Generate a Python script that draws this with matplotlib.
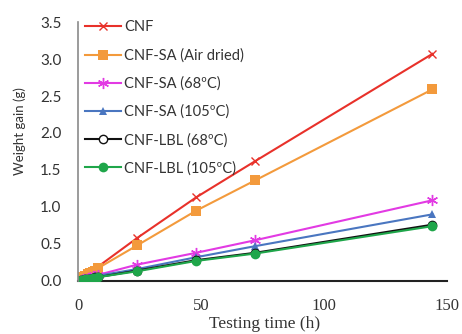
import matplotlib
matplotlib.use("Agg")
import matplotlib.pyplot as plt

# Testing times (h)
time_h = [0, 1, 2, 3, 4, 5, 6, 7, 8, 24, 48, 72, 144]

# Weight gain (g) per sample
cnf        = [0.00, 0.03, 0.05, 0.07, 0.09, 0.11, 0.13, 0.15, 0.19, 0.58, 1.13, 1.62, 3.07]
cnf_sa_air = [0.00, 0.03, 0.05, 0.07, 0.09, 0.10, 0.12, 0.14, 0.17, 0.48, 0.95, 1.36, 2.59]
cnf_sa_68  = [0.00, 0.01, 0.02, 0.03, 0.04, 0.05, 0.06, 0.07, 0.08, 0.22, 0.38, 0.55, 1.09]
cnf_sa_105 = [0.00, 0.01, 0.02, 0.03, 0.03, 0.04, 0.05, 0.06, 0.07, 0.16, 0.32, 0.47, 0.90]
cnf_lbl_68 = [0.00, 0.01, 0.01, 0.02, 0.03, 0.03, 0.04, 0.05, 0.05, 0.14, 0.28, 0.38, 0.76]
cnf_lbl_105= [0.00, 0.01, 0.01, 0.02, 0.02, 0.03, 0.04, 0.04, 0.05, 0.13, 0.27, 0.37, 0.74]

labels = ["CNF", "CNF-SA (Air dried)", "CNF-SA (68ºC)", "CNF-SA (105ºC)",
          "CNF-LBL (68ºC)", "CNF-LBL (105ºC)"]
series = [cnf, cnf_sa_air, cnf_sa_68, cnf_sa_105, cnf_lbl_68, cnf_lbl_105]

styles = [
    dict(color="#e8312a", marker="x", ms=6, mew=1.0, mfc="#e8312a"),
    dict(color="#f39a3c", marker="s", ms=7, mew=0, mfc="#f39a3c"),
    dict(color="#e23ae3", marker=(6, 2, 0), ms=8, mew=1.0, mfc="#e23ae3"),
    dict(color="#4a76c0", marker="^", ms=6, mew=0, mfc="#4a76c0"),
    dict(color="#111111", marker="o", ms=6, mew=1.0, mfc="white"),
    dict(color="#1fa64a", marker="o", ms=7, mew=0, mfc="#1fa64a"),
]

sans = ["Lato", "DejaVu Sans"]
serif = ["Liberation Serif", "DejaVu Serif"]

fig = plt.figure(figsize=(4.62, 3.34), dpi=100)
ax = fig.add_axes([0.169, 0.159, 0.799, 0.775])

for y, lab, st in zip(series, labels, styles):
    ax.plot(time_h, y, label=lab, lw=1.5, color=st["color"], marker=st["marker"],
            markersize=st["ms"], markeredgewidth=st["mew"],
            markerfacecolor=st["mfc"], markeredgecolor=st["color"])

ax.set_xlim(0, 150)
ax.set_ylim(0, 3.5)
ax.set_xticks([0, 50, 100, 150])
ax.set_yticks([0.0, 0.5, 1.0, 1.5, 2.0, 2.5, 3.0, 3.5])
ax.set_yticklabels([f"{v:.1f}" for v in ax.get_yticks()], family=sans, fontsize=11, color="#333333")
ax.set_xticklabels(["0", "50", "100", "150"], family=serif, fontsize=12, color="#333333")
ax.tick_params(axis="y", length=0, pad=12)
ax.tick_params(axis="x", length=0, pad=12)

for s in ("top", "right"):
    ax.spines[s].set_visible(False)
ax.spines["left"].set_color("#8a8a8a")
ax.spines["left"].set_linewidth(1.2)
ax.spines["bottom"].set_color("#222222")
ax.spines["bottom"].set_linewidth(1.5)
ax.spines["bottom"].set_zorder(0)

ax.set_ylabel("Weight gain (g)", family=sans, fontsize=9.5, color="#333333")
ax.yaxis.set_label_coords(-0.14, 0.58)
ax.set_xlabel("Testing time (h)", family=serif, fontsize=12.5, color="#333333")
ax.xaxis.set_label_coords(0.505, -0.135)

leg = ax.legend(loc="upper left", bbox_to_anchor=(-0.005, 1.04), frameon=False,
                prop={"family": sans, "size": 10.5}, handlelength=2.5,
                handletextpad=0.2, labelspacing=0.95, borderaxespad=0.2)
for t in leg.get_texts():
    t.set_color("#333333")

fig.savefig("out.png", dpi=100)
